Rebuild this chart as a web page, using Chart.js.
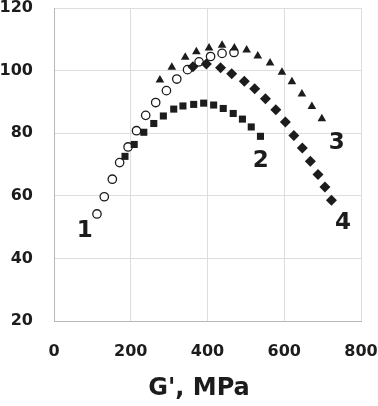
<!DOCTYPE html>
<html>
<head>
<meta charset="utf-8">
<script src="https://cdn.jsdelivr.net/npm/chart.js@4"></script>
<style>
  html, body { margin: 0; padding: 0; background: #fff; }
  #wrap { width: 378px; height: 406px; position: relative; }
</style>
</head>
<body>
<div id="wrap"><canvas id="gChart"></canvas></div>
<script>
// series 1 - open circles
const s1x = [112, 131, 152, 171, 193, 215, 239, 265, 293, 320, 348, 378, 408, 438, 469];
const s1y = [54.2, 59.7, 65.3, 70.6, 75.6, 80.8, 85.7, 89.8, 93.6, 97.3, 100.3, 102.8, 104.5, 105.5, 105.8];
// series 2 - squares
const s2x = [185, 209, 234, 260, 285, 312, 336, 364, 390, 416, 441, 467, 491, 514, 538];
const s2y = [72.6, 76.4, 80.3, 83.1, 85.5, 87.7, 88.7, 89.2, 89.6, 89.0, 87.9, 86.3, 84.5, 82.0, 79.0];
// series 3 - triangles
const s3x = [276, 307, 342, 371, 404, 438, 470, 502, 531, 563, 594, 620, 646, 672, 698];
const s3y = [97.0, 101.1, 104.3, 106.0, 107.2, 108.1, 107.2, 106.6, 104.7, 102.4, 99.5, 96.4, 92.5, 88.5, 84.6];
// series 4 - diamonds
const s4x = [362, 397, 434, 463, 496, 523, 551, 578, 603, 625, 647, 668, 688, 706, 723];
const s4y = [101.2, 102.1, 100.9, 99.0, 96.6, 94.2, 91.0, 87.5, 83.6, 79.3, 75.3, 71.0, 66.8, 62.8, 58.6];

// curve numbers, placed in data units
const curveNames = ['1', '2', '3', '4'];
const curveNameX = [80, 539, 737, 753];
const curveNameY = [48.6, 71.2, 77.0, 51.4];

const xTicks = [0, 200, 400, 600, 800];
const yTicks = [20, 40, 60, 80, 100, 120];
const xTitle = "G', MPa";

const toPts = (xs, ys) => xs.map((x, i) => ({ x: x, y: ys[i] }));

const ink = '#1c1c1c';
const font = 'DejaVu Sans';

const curveLabels = {
    id: 'curveLabels',
    afterDatasetsDraw(chart) {
        const ctx = chart.ctx;
        const xs = chart.scales.x, ys = chart.scales.y;
        ctx.save();
        ctx.fillStyle = ink;
        ctx.font = 'bold 23px "' + font + '"';
        ctx.textAlign = 'center';
        ctx.textBaseline = 'middle';
        curveNames.forEach((t, i) => {
            ctx.fillText(t, xs.getPixelForValue(curveNameX[i]), ys.getPixelForValue(curveNameY[i]));
        });
        // axis title
        ctx.font = 'bold 24px "' + font + '"';
        ctx.fillText(xTitle, 199, 389);
        ctx.restore();
    }
};

// tick marks kept invisible; their length spaces the labels from the axis
const gridX = { color: '#dedede', lineWidth: 1, drawTicks: true, tickLength: 23, tickColor: 'rgba(0,0,0,0)' };
const gridY = { color: '#dedede', lineWidth: 1, drawTicks: true, tickLength: 21, tickColor: 'rgba(0,0,0,0)' };

new Chart(document.getElementById('gChart'), {
    type: 'scatter',
    data: {
        datasets: [
            {
                data: toPts(s3x, s3y),
                pointStyle: 'triangle',
                pointRadius: 5,
                backgroundColor: ink,
                borderColor: ink,
                borderWidth: 0
            },
            {
                data: toPts(s4x, s4y),
                pointStyle: 'rectRot',
                pointRadius: 5.5,
                backgroundColor: ink,
                borderColor: ink,
                borderWidth: 0
            },
            {
                data: toPts(s2x, s2y),
                pointStyle: 'rect',
                pointRadius: 5,
                backgroundColor: ink,
                borderColor: ink,
                borderWidth: 0
            },
            {
                data: toPts(s1x, s1y),
                pointStyle: 'circle',
                pointRadius: 4.2,
                backgroundColor: '#fff',
                borderColor: ink,
                borderWidth: 1.3
            }
        ]
    },
    options: {
        responsive: true,
        maintainAspectRatio: false,
        animation: false,
        events: [],
        layout: { padding: { top: 8, right: 17, left: 0, bottom: 0 } },
        plugins: {
            legend: { display: false },
            tooltip: { enabled: false }
        },
        scales: {
            x: {
                type: 'linear',
                min: 0,
                max: 800,
                afterFit: (s) => { s.height = 85; },
                afterBuildTicks: (s) => { s.ticks = xTicks.map(v => ({ value: v })); },
                grid: gridX,
                border: { color: '#b8b8b8', width: 1 },
                ticks: {
                    padding: 0,
                    color: ink,
                    maxRotation: 0,
                    font: { family: font, size: 16, weight: 'bold', lineHeight: 1 }
                }
            },
            y: {
                min: 20,
                max: 120,
                afterFit: (s) => { s.width = 54; },
                afterBuildTicks: (s) => { s.ticks = yTicks.map(v => ({ value: v })); },
                grid: gridY,
                border: { color: '#b8b8b8', width: 1 },
                ticks: {
                    padding: 0,
                    color: ink,
                    font: { family: font, size: 16, weight: 'bold', lineHeight: 1 }
                }
            }
        }
    },
    plugins: [curveLabels]
});
</script>
</body>
</html>
